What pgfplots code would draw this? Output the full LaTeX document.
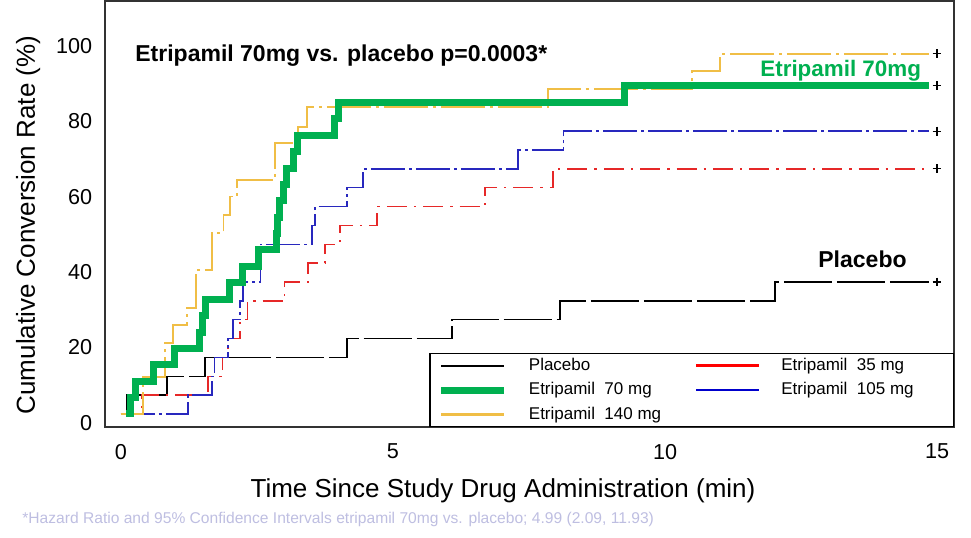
\documentclass[border=0pt]{standalone}
\usepackage{fontspec}
\setmainfont{Liberation Sans}
\usepackage{pgfplots}
\pgfplotsset{compat=1.18}
\definecolor{cgreen}{RGB}{0,176,80}
\definecolor{cgold}{RGB}{240,190,70}
\definecolor{cred}{RGB}{230,40,40}
\definecolor{cblue}{RGB}{40,40,190}
\definecolor{cfoot}{RGB}{190,190,225}
\begin{document}
\begin{tikzpicture}
\begin{axis}[
  at={(0pt,0pt)}, anchor=south west,
  scale only axis, width=424.5pt, height=213pt,
  xmin=-0.294, xmax=15.312, ymin=-3.45, ymax=109.5,
  xtick={0,5,10,15}, ytick={0,20,40,60,80,100},
  major tick length=0pt, tick style={draw=none},
  axis line style={line width=0.7pt, draw=black!80},
  /pgf/number format/assume math mode=true,
  xticklabel style={font=\fontsize{10.8}{12}\selectfont, yshift=-5pt},
  yticklabel style={font=\fontsize{10.8}{12}\selectfont, xshift=-2.9pt, yshift=-4.5pt},
  legend columns=2, legend cell align=left,
  legend image code/.code={\draw[#1] (0pt,0pt) -- (31.5pt,0pt);},
  legend style={at={(1,0)}, anchor=south east, draw=black, line width=0.6pt,
    font=\fontsize{8.5}{10}\selectfont, inner xsep=4pt, inner ysep=2.1pt,
    row sep=4.6pt, nodes={inner sep=0pt},
    /tikz/every odd column/.append style={column sep=10.5pt},
    /tikz/every even column/.append style={column sep=17pt}},
]
\addlegendimage{black, line width=1pt, solid}
\addlegendentry{Placebo}
\addlegendimage{red, line width=1.1pt, solid}
\addlegendentry{\makebox[82pt][l]{Etripamil\ \ 35 mg}}
\addlegendimage{cgreen, line width=3.5pt, solid}
\addlegendentry{Etripamil\ \ 70 mg}
\addlegendimage{blue!80!black, line width=1.1pt, solid}
\addlegendentry{\makebox[82pt][l]{Etripamil\ \ 105 mg}}
\addlegendimage{cgold, line width=1.1pt, solid}
\addlegendentry{Etripamil\ \ 140 mg}

% Placebo
\addplot[const plot, black, line width=0.75pt, dash pattern=on 24pt off 2.5pt, forget plot]
coordinates {(0,0) (0.11,5) (0.85,10) (1.54,15) (4.15,20) (6.08,25) (8.07,30) (12.02,35) (14.85,35)};
% 35 mg
\addplot[const plot, cred, line width=0.75pt, dash pattern=on 10pt off 3.5pt on 1.2pt off 3.5pt, forget plot]
coordinates {(0,0) (0.39,5) (1.6,10) (1.87,15) (1.97,20) (2.19,25) (2.33,30) (3.01,35) (3.44,40) (3.75,45) (4.03,50) (4.71,55) (6.69,60) (7.94,65) (14.85,65)};
% 105 mg
\addplot[const plot, cblue, line width=0.75pt, dash pattern=on 17pt off 2pt on 1.5pt off 2pt, forget plot]
coordinates {(0,0) (1.23,5) (1.67,10) (1.72,15) (1.97,20) (2.06,25) (2.19,30) (2.24,35) (2.56,45) (3.51,50) (3.57,55) (4.15,60) (4.45,65) (7.3,70) (8.13,75) (14.85,75)};
% 140 mg
\addplot[const plot, cgold, line width=0.75pt, dash pattern=on 22pt off 2.5pt on 1.5pt off 2.5pt, forget plot]
coordinates {(0,0) (0.4,9.8) (0.81,18.8) (0.96,23.6) (1.21,28.1) (1.38,38.2) (1.67,48) (1.88,52.8) (2.0,57.6) (2.13,62.1) (2.83,71.9) (3.25,76.1) (3.42,81.4) (7.85,86.2) (10.5,91) (11.01,95.5) (14.85,95.5)};
% 70 mg
\addplot[const plot, cgreen, line width=3.5pt, forget plot]
coordinates {(0.1,0) (0.18,4.35) (0.27,8.7) (0.59,13.0) (0.99,17.4) (1.45,21.7) (1.5,26.1) (1.55,30.4) (2.0,34.8) (2.24,39.1) (2.52,43.5) (2.85,47.8) (2.87,52.2) (2.92,56.5) (2.98,60.9) (3.05,65.2) (3.18,69.6) (3.24,73.9) (3.92,78.3) (4.0,82.6) (9.26,87.0) (14.85,87.0)};
% censor marks
\addplot[only marks, mark=+, mark size=2.2pt, black, line width=0.6pt, forget plot]
coordinates {(15,35) (15,65) (15,75) (15,87) (15,95.5)};
\end{axis}
\node[anchor=base west, inner sep=0pt, font=\fontsize{11.5}{13}\selectfont\bfseries] at (15pt,182.75pt) {Etripamil 70mg vs. placebo p=0.0003*};
\node[anchor=base west, inner sep=0pt, text=cgreen, font=\fontsize{11.2}{13}\selectfont\bfseries] at (327.5pt,175.2pt) {Etripamil 70mg};
\node[anchor=base west, inner sep=0pt, font=\fontsize{11.5}{13}\selectfont\bfseries] at (356.5pt,80pt) {Placebo};
\node[anchor=base, inner sep=0pt, font=\fontsize{13}{15}\selectfont] at (199pt,-35pt) {Time Since Study Drug Administration (min)};
\node[anchor=base, rotate=90, inner sep=0pt, font=\fontsize{13}{15}\selectfont] at (-35pt,101pt) {Cumulative Conversion Rate (\%)};
\node[anchor=base west, inner sep=0pt, text=cfoot, font=\fontsize{7.8}{9}\selectfont] at (-41.5pt,-48pt) {*Hazard Ratio and 95\% Confidence Intervals etripamil 70mg vs. placebo; 4.99 (2.09, 11.93)};
\pgfresetboundingbox
\path[use as bounding box] (-52.5pt,-55pt) rectangle (433pt,213.5pt);
\end{tikzpicture}
\end{document}
